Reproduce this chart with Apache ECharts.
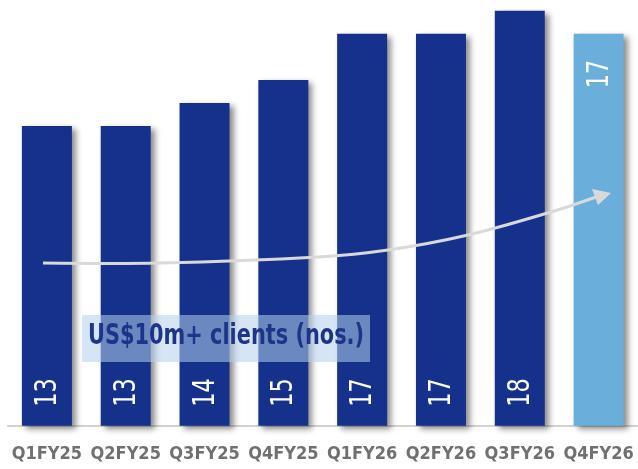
<!DOCTYPE html>
<html>
<head>
<meta charset="utf-8">
<script src="https://cdn.jsdelivr.net/npm/echarts@6/dist/echarts.min.js"></script>
<style>
  html, body { margin: 0; padding: 0; background: #ffffff; }
  #chart { width: 638px; height: 469px; }
</style>
</head>
<body>
<div id="chart"></div>
<script>
// Quarterly count of clients with US$10m+ revenue
const quarters = ['Q1FY25', 'Q2FY25', 'Q3FY25', 'Q4FY25', 'Q1FY26', 'Q2FY26', 'Q3FY26', 'Q4FY26'];
const clients = [13, 13, 14, 15, 17, 17, 18, 17];
const caption = 'US$10m+ clients (nos.)';

const NAVY = '#15318b';
const LIGHT = '#6aafdb';
const COND = '"DejaVu Sans Condensed", "Liberation Sans Narrow", sans-serif';

const last = clients.length - 1;

const chart = echarts.init(document.getElementById('chart'), null, { renderer: 'canvas' });

// Value labels: rotated and horizontally squeezed for a narrow look
function renderValueLabel(params, api) {
  const idx = api.value(0);
  const val = api.value(1);
  const isLast = idx === last;
  const base = api.coord([idx, 0]);
  const top = api.coord([idx, val]);
  return {
    type: 'text',
    x: base[0] + 1,
    y: isLast ? top[1] + 26 : base[1] - 19,
    rotation: Math.PI / 2,
    scaleX: 0.8,
    style: {
      text: String(val),
      fill: '#ffffff',
      font: '31px ' + COND,
      align: isLast ? 'right' : 'left',
      verticalAlign: 'middle'
    }
  };
}

chart.setOption({
  animation: false,
  backgroundColor: '#ffffff',
  grid: { left: 7.5, top: 10.7, width: 633, bottom: 43.2, containLabel: false },
  xAxis: {
    type: 'category',
    data: quarters,
    axisTick: { show: false },
    axisLine: { show: true, lineStyle: { color: '#c4c4c4', width: 1.5 } },
    axisLabel: {
      interval: 0,
      color: '#707070',
      fontFamily: COND,
      fontWeight: 'bold',
      fontSize: 18,
      margin: 20
    }
  },
  yAxis: {
    type: 'value',
    min: 0,
    max: 18,
    show: false,
    splitLine: { show: false }
  },
  series: [
    {
      type: 'bar',
      data: clients.map((v, i) => ({
        value: v,
        itemStyle: { color: i === last ? LIGHT : NAVY }
      })),
      barWidth: 50,
      itemStyle: {
        shadowColor: 'rgba(0,0,0,0.45)',
        shadowBlur: 6,
        shadowOffsetX: 4,
        shadowOffsetY: 3
      }
    },
    {
      type: 'custom',
      z: 5,
      data: clients.map((v, i) => [i, v]),
      renderItem: renderValueLabel
    }
  ],
  graphic: [
    // growth trend arrow
    {
      type: 'polyline',
      z: 10,
      shape: {
        points: [[43, 263], [160, 263], [318, 257], [388, 250], [468, 235], [551, 212], [596, 197]],
        smooth: 0.35
      },
      style: { stroke: '#d9d9d9', lineWidth: 3, fill: null }
    },
    {
      type: 'polygon',
      z: 10,
      shape: { points: [[611, 193], [592, 189], [598, 205]] },
      style: { fill: '#d9d9d9' }
    },
    // caption box
    {
      type: 'rect',
      z: 11,
      shape: { x: 82, y: 315, width: 288, height: 47 },
      style: { fill: 'rgba(181,208,236,0.55)' }
    },
    {
      type: 'text',
      z: 12,
      x: 88,
      y: 322,
      scaleX: 0.8,
      style: {
        text: caption,
        fill: '#1c3588',
        font: 'bold 29px ' + COND
      }
    }
  ]
});
</script>
</body>
</html>
